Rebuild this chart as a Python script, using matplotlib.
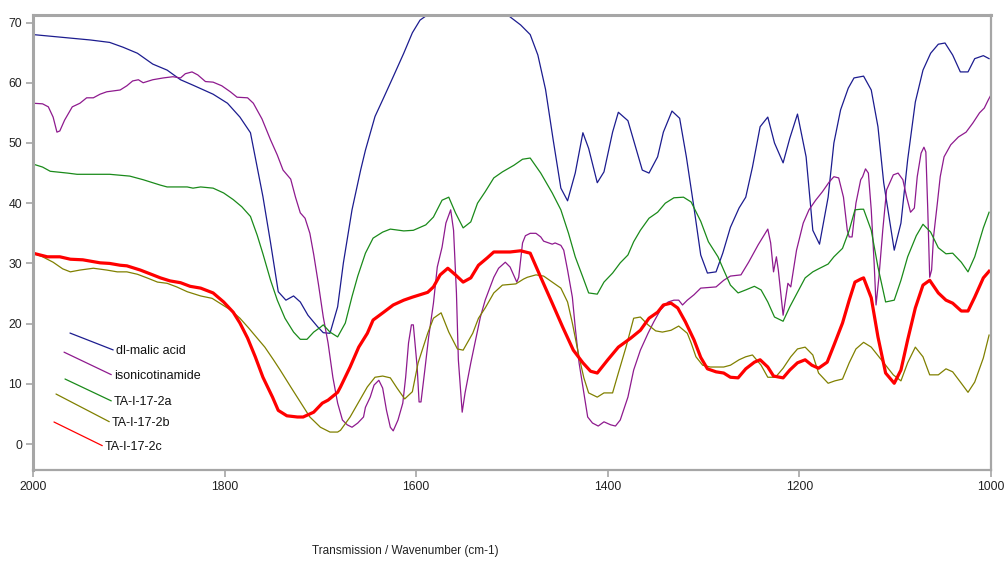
import numpy as np
import matplotlib
matplotlib.use("Agg")
import matplotlib.pyplot as plt

plt.rcParams['font.family'] = ['Liberation Sans', 'DejaVu Sans']

# wavenumber (cm-1) / transmission readings, one pair of arrays per spectrum
malic_wn = [2000, 1940, 1920, 1906, 1891, 1875, 1860, 1846, 1833, 1812, 1797, 1784, 1773,
            1760, 1752, 1744, 1736, 1728, 1721, 1713, 1703, 1697, 1690, 1682, 1676, 1667,
            1658, 1653, 1643, 1634, 1624, 1613, 1604, 1596, 1588, 1505, 1491, 1481, 1473,
            1465, 1457, 1449, 1442, 1434, 1426, 1420, 1411, 1404, 1395, 1389, 1379, 1364,
            1357, 1348, 1342, 1333, 1325, 1318, 1310, 1303, 1296, 1287, 1280, 1272, 1263,
            1256, 1249, 1241, 1233, 1226, 1217, 1210, 1202, 1193, 1186, 1179, 1170, 1164,
            1157, 1149, 1143, 1133, 1125, 1118, 1112, 1101, 1094, 1087, 1079, 1071, 1063,
            1055, 1048, 1040, 1032, 1024, 1017, 1008, 1002]
malic_t = [68.0, 67.1, 66.7, 65.9, 64.9, 63.1, 62.1, 60.5, 59.6, 58.1, 56.6, 54.3, 51.7,
           41.1, 33.4, 25.3, 23.9, 24.6, 23.6, 21.4, 19.5, 18.5, 18.4, 22.8, 30.1, 38.9,
           45.5, 48.8, 54.4, 57.5, 61.0, 64.9, 68.3, 70.4, 71.3, 71.3, 69.6, 68.0, 64.6,
           58.9, 50.5, 42.5, 40.4, 45.0, 51.7, 49.1, 43.4, 45.2, 51.8, 55.1, 53.7, 45.5,
           45.0, 47.7, 51.8, 55.3, 54.1, 47.7, 39.2, 31.4, 28.4, 28.6, 31.7, 36.0, 39.2,
           41.0, 46.0, 52.7, 54.3, 50.0, 46.7, 50.8, 54.8, 47.7, 35.5, 33.2, 41.0, 50.0,
           55.5, 59.1, 60.8, 61.1, 58.8, 52.7, 43.4, 32.2, 36.7, 47.2, 56.8, 62.1, 64.9,
           66.4, 66.6, 64.6, 61.8, 61.8, 64.0, 64.5, 64.0]

iso_wn = [2000, 1990, 1984, 1979, 1975, 1972, 1967, 1959, 1951, 1944, 1937, 1930, 1923,
          1909, 1902, 1896, 1890, 1885, 1875, 1864, 1854, 1846, 1841, 1834, 1828, 1820,
          1812, 1803, 1794, 1787, 1776, 1770, 1761, 1752, 1745, 1739, 1731, 1726, 1721,
          1716, 1711, 1707, 1702, 1697, 1692, 1687, 1682, 1677, 1672, 1667, 1661, 1655,
          1653, 1648, 1644, 1639, 1635, 1631, 1627, 1624, 1619, 1614, 1611, 1608, 1605,
          1603, 1599, 1597, 1595, 1591, 1587, 1582, 1578, 1573, 1569, 1564, 1561, 1558,
          1556, 1552, 1549, 1543, 1538, 1533, 1528, 1519, 1514, 1507, 1502, 1495, 1493,
          1489, 1486, 1481, 1475, 1470, 1467, 1458, 1455, 1449, 1446, 1442, 1437, 1434,
          1430, 1426, 1421, 1416, 1410, 1404, 1397, 1392, 1387, 1379, 1373, 1366, 1358,
          1352, 1345, 1337, 1331, 1326, 1322, 1317, 1310, 1303, 1287, 1279, 1272, 1261,
          1253, 1243, 1238, 1233, 1230, 1227, 1224, 1222, 1217, 1212, 1209, 1203, 1196,
          1190, 1183, 1176, 1169, 1164, 1159, 1154, 1150, 1148, 1145, 1141, 1136, 1134,
          1131, 1128, 1125, 1122, 1120, 1117, 1113, 1109, 1102, 1097, 1092, 1088, 1084,
          1080, 1077, 1073, 1070, 1068, 1066, 1064, 1062, 1060, 1056, 1053, 1049, 1042,
          1034, 1026, 1019, 1012, 1007, 1003, 1000]
iso_t = [56.6, 56.5, 56.0, 54.3, 51.8, 52.0, 53.8, 56.0, 56.6, 57.5, 57.5, 58.1, 58.5,
         58.8, 59.5, 60.3, 60.5, 60.0, 60.5, 60.8, 61.0, 60.8, 61.5, 61.8, 61.3, 60.2,
         60.1, 59.5, 58.5, 57.6, 57.5, 56.6, 54.0, 50.5, 48.0, 45.5, 44.0, 41.0, 38.4,
         37.5, 35.0, 31.5, 26.5, 21.1, 16.8, 11.1, 6.8, 4.0, 3.2, 2.8, 3.5, 4.5,
         6.1, 7.8, 9.8, 10.6, 9.3, 5.6, 2.8, 2.2, 4.0, 6.8, 11.1, 16.8, 19.8,
         19.8, 12.8, 7.0, 7.0, 12.3, 17.8, 23.4, 29.4, 32.7, 36.7, 38.9, 35.5, 25.1,
         14.0, 5.3, 8.5, 13.5, 17.3, 21.1, 23.9, 27.7, 29.2, 30.2, 29.4, 26.9, 27.7,
         33.4, 34.6, 35.0, 35.0, 34.4, 33.7, 33.2, 33.4, 33.0, 32.2, 28.9, 24.4, 19.4,
         13.5, 9.5, 4.5, 3.5, 3.0, 3.7, 3.2, 3.0, 4.0, 7.8, 12.3, 15.6, 18.4,
         20.3, 22.3, 23.6, 23.9, 23.9, 23.1, 23.9, 24.8, 25.9, 26.1, 27.2, 27.9, 28.1,
         30.2, 33.1, 34.4, 35.7, 33.4, 28.6, 31.1, 28.9, 21.4, 26.7, 26.1, 32.2, 36.7,
         38.9, 40.5, 41.9, 43.5, 44.4, 44.2, 41.0, 35.5, 34.4, 34.4, 40.0, 43.9, 44.4,
         45.7, 45.0, 38.9, 30.1, 23.1, 27.7, 35.5, 42.2, 44.7, 45.0, 43.9, 41.0, 38.5,
         39.2, 44.4, 48.3, 49.3, 48.5, 38.9, 27.7, 28.9, 34.4, 40.0, 44.4, 47.7, 49.7,
         51.0, 51.8, 53.3, 55.0, 55.8, 57.1, 58.0]

a_wn = [2000, 1990, 1982, 1964, 1954, 1920, 1899, 1885, 1867, 1860, 1839, 1833, 1825,
        1812, 1801, 1791, 1782, 1773, 1766, 1760, 1752, 1745, 1737, 1728, 1721, 1714,
        1707, 1700, 1697, 1690, 1682, 1674, 1667, 1661, 1653, 1645, 1635, 1627, 1613,
        1603, 1590, 1582, 1573, 1566, 1559, 1551, 1543, 1536, 1528, 1519, 1510, 1498,
        1489, 1481, 1470, 1458, 1449, 1441, 1434, 1426, 1420, 1411, 1404, 1395, 1387,
        1379, 1373, 1366, 1357, 1348, 1340, 1331, 1321, 1313, 1303, 1295, 1285, 1279,
        1272, 1264, 1256, 1247, 1240, 1233, 1226, 1217, 1210, 1202, 1194, 1186, 1180,
        1170, 1164, 1155, 1148, 1142, 1136, 1133, 1125, 1118, 1110, 1101, 1094, 1087,
        1078, 1071, 1063, 1055, 1047, 1040, 1031, 1024, 1017, 1008, 1002]
a_t = [46.5, 46.0, 45.3, 45.0, 44.8, 44.8, 44.5, 43.9, 43.0, 42.7, 42.7, 42.5, 42.7,
       42.5, 41.7, 40.6, 39.4, 37.8, 34.7, 31.6, 27.2, 23.9, 20.9, 18.6, 17.4, 17.4,
       18.6, 19.4, 19.8, 18.6, 17.8, 20.1, 24.5, 27.9, 31.7, 34.2, 35.2, 35.7, 35.4,
       35.5, 36.4, 37.7, 40.5, 41.0, 38.4, 35.9, 36.9, 40.0, 41.9, 44.2, 45.2, 46.3,
       47.3, 47.5, 45.0, 41.7, 38.9, 35.0, 31.1, 27.7, 25.1, 24.9, 26.9, 28.4, 30.1,
       31.4, 33.6, 35.5, 37.5, 38.5, 40.0, 40.9, 41.0, 40.2, 37.0, 33.6, 31.1, 28.9,
       26.4, 25.1, 25.6, 26.2, 25.6, 23.6, 21.1, 20.4, 22.8, 25.2, 27.6, 28.6, 29.1,
       29.9, 31.1, 32.5, 35.5, 38.9, 39.0, 39.0, 35.5, 29.4, 23.6, 23.9, 27.2, 31.1,
       34.6, 36.5, 35.2, 32.6, 31.6, 31.7, 30.2, 28.6, 31.1, 35.9, 38.5]

b_wn = [2000, 1990, 1979, 1969, 1961, 1951, 1937, 1923, 1912, 1902, 1891, 1881, 1870,
        1860, 1850, 1839, 1825, 1813, 1805, 1794, 1784, 1775, 1766, 1758, 1749, 1742,
        1731, 1721, 1711, 1700, 1690, 1682, 1679, 1669, 1660, 1651, 1643, 1635, 1627,
        1620, 1612, 1604, 1598, 1588, 1582, 1574, 1566, 1557, 1551, 1541, 1535, 1528,
        1519, 1510, 1496, 1488, 1484, 1475, 1467, 1458, 1449, 1442, 1437, 1430, 1425,
        1420, 1411, 1404, 1395, 1389, 1381, 1373, 1366, 1358, 1350, 1343, 1334, 1326,
        1317, 1313, 1308, 1301, 1293, 1279, 1272, 1263, 1256, 1249, 1240, 1233, 1225,
        1217, 1209, 1202, 1194, 1186, 1180, 1170, 1163, 1155, 1148, 1141, 1133, 1125,
        1117, 1110, 1102, 1094, 1087, 1079, 1071, 1064, 1055, 1047, 1040, 1031, 1024,
        1017, 1008, 1002]
b_t = [31.7, 31.1, 30.2, 29.1, 28.6, 28.9, 29.2, 28.9, 28.6, 28.6, 28.2, 27.6, 26.9,
       26.7, 26.1, 25.3, 24.6, 24.2, 23.4, 22.3, 20.9, 19.3, 17.6, 16.1, 14.0, 12.3,
       9.5, 7.0, 4.5, 2.8, 2.0, 2.0, 2.3, 4.5, 7.0, 9.5, 11.1, 11.3, 11.0,
       9.3, 7.5, 8.7, 13.5, 18.4, 20.9, 21.8, 18.6, 15.8, 15.6, 18.4, 20.9, 22.6,
       25.1, 26.4, 26.6, 27.4, 27.7, 28.1, 27.9, 26.9, 25.9, 23.6, 20.1, 14.5, 11.0,
       8.5, 7.8, 8.5, 8.5, 11.8, 16.1, 20.9, 21.1, 19.8, 18.8, 18.6, 18.9, 19.6,
       18.4, 16.8, 14.5, 13.1, 12.8, 12.8, 13.1, 14.0, 14.5, 14.8, 13.1, 11.1, 11.1,
       12.6, 14.5, 15.8, 16.1, 14.8, 11.8, 10.1, 10.5, 10.8, 13.5, 15.8, 16.9, 16.1,
       14.5, 13.1, 11.5, 10.5, 13.5, 16.1, 14.5, 11.5, 11.5, 12.5, 12.0, 10.1, 8.6,
       10.3, 14.3, 18.1]

c_wn = [2000, 1985, 1972, 1961, 1948, 1930, 1920, 1909, 1902, 1888, 1875, 1867, 1857,
        1846, 1836, 1825, 1812, 1801, 1791, 1784, 1776, 1768, 1760, 1750, 1744, 1735,
        1724, 1718, 1707, 1698, 1692, 1682, 1679, 1669, 1660, 1651, 1645, 1634, 1624,
        1613, 1604, 1596, 1588, 1582, 1575, 1567, 1559, 1551, 1543, 1535, 1526, 1519,
        1508, 1502, 1491, 1481, 1470, 1458, 1447, 1436, 1426, 1418, 1411, 1400, 1389,
        1376, 1366, 1357, 1348, 1342, 1334, 1327, 1319, 1310, 1303, 1296, 1287, 1279,
        1272, 1264, 1256, 1247, 1241, 1233, 1227, 1217, 1210, 1202, 1194, 1187, 1180,
        1171, 1164, 1155, 1148, 1142, 1136, 1133, 1125, 1118, 1110, 1101, 1094, 1087,
        1079, 1071, 1064, 1055, 1047, 1040, 1031, 1024, 1017, 1008, 1002]
c_t = [31.7, 31.1, 31.1, 30.7, 30.6, 30.1, 30.0, 29.7, 29.6, 28.9, 28.1, 27.6, 27.1,
       26.8, 26.2, 25.9, 25.1, 23.6, 21.9, 20.1, 17.6, 14.5, 11.1, 7.8, 5.6, 4.7,
       4.5, 4.5, 5.3, 6.8, 7.3, 8.6, 9.5, 12.8, 16.1, 18.4, 20.6, 21.9, 23.1,
       23.9, 24.4, 24.8, 25.2, 26.1, 28.1, 29.2, 28.1, 26.9, 27.6, 29.7, 30.9, 31.9,
       31.9, 31.9, 32.1, 31.7, 27.7, 23.4, 19.4, 15.6, 13.5, 12.1, 11.8, 14.0, 16.1,
       17.6, 18.9, 20.9, 21.9, 23.1, 23.4, 22.6, 20.3, 17.3, 14.4, 12.5, 12.0, 11.8,
       11.1, 11.0, 12.5, 13.6, 14.0, 12.8, 11.3, 11.0, 12.3, 13.5, 14.0, 13.1, 12.6,
       13.6, 16.4, 20.1, 23.9, 26.9, 27.4, 27.6, 24.3, 17.8, 11.8, 10.1, 12.3, 17.3,
       22.6, 26.4, 27.2, 25.1, 23.9, 23.4, 22.1, 22.1, 24.4, 27.6, 28.7]

labels = ['dl-malic acid', 'isonicotinamide', 'TA-I-17-2a', 'TA-I-17-2b', 'TA-I-17-2c']
colors = ['#1c1c8f', '#8e1a8e', '#1a8a1a', '#808000', '#ff0000']
widths = [0.9, 0.9, 0.9, 0.9, 2.3]
series = [(malic_wn, malic_t), (iso_wn, iso_t), (a_wn, a_t), (b_wn, b_t), (c_wn, c_t)]

# legend-like label positions (axes fraction): text anchor and line start
label_text_pos = [(0.0866, 0.2615), (0.0846, 0.2066), (0.0846, 0.149), (0.0825, 0.103), (0.0752, 0.0505)]
label_line_start = [(0.0386, 0.301), (0.0324, 0.259), (0.0334, 0.2), (0.024, 0.167), (0.0219, 0.1055)]

fig = plt.figure(figsize=(10.06, 5.63), dpi=100)
ax = fig.add_axes([33/1006, 1 - 470/563, 958/1006, 455/563])

for (wn, t), c, lw in zip(series, colors, widths):
    ax.plot(wn, t, color=c, lw=lw, solid_joinstyle='round')

for lab, c, tp, lp in zip(labels, colors, label_text_pos, label_line_start):
    ax.annotate(lab, xy=lp, xycoords='axes fraction', xytext=tp, textcoords='axes fraction',
                ha='left', va='center', fontsize=9, color='#111111',
                arrowprops=dict(arrowstyle='-', color=c, lw=0.9, shrinkA=0, shrinkB=0,
                                relpos=(0, 0.5)))

ax.set_xlim(2000, 1000)
ax.set_ylim(-4.3, 71.25)
ax.set_xticks([2000, 1800, 1600, 1400, 1200, 1000])
ax.set_yticks(np.arange(0, 71, 10))

for side in ['left', 'top']:
    ax.spines[side].set_linewidth(2.2)
for side in ['right', 'bottom']:
    ax.spines[side].set_linewidth(1.6)
for s in ax.spines.values():
    s.set_color('#a6a6a6')
    s.set_zorder(5)

ax.tick_params(axis='both', direction='out', length=5, width=1.2, color='#a6a6a6',
               labelsize=8.8, labelcolor='#222222', pad=3)

fig.text(405/1006, 1 - 551/563, 'Transmission / Wavenumber (cm-1)', ha='center', va='center',
         fontsize=8.5, color='#222222')

fig.savefig('out.png', dpi=100)
